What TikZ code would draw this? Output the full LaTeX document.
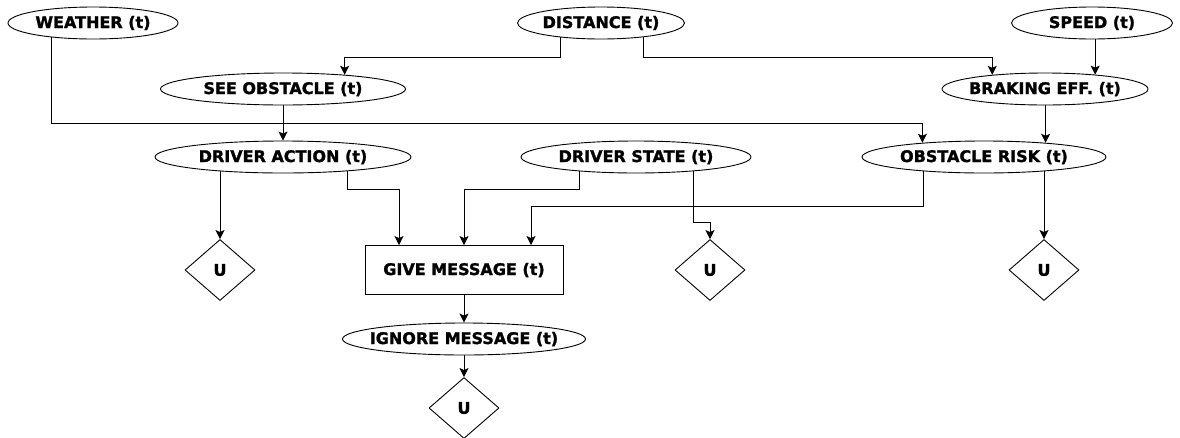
\documentclass[tikz,border=0pt]{standalone}
\usepackage{fontspec}
\setmainfont{DejaVu Sans}[BoldFeatures={FakeBold=1.5}]
\usepackage{tikz}
\usetikzlibrary{shapes.geometric}
\usetikzlibrary{arrows.meta}
\pgfdeclarelayer{bg}
\pgfsetlayers{bg,main}

\begin{document}
\begin{tikzpicture}[x=1pt,y=-1pt,
        var/.style={ellipse,draw,fill=white,line width=0.9pt,inner xsep=-40pt,inner ysep=0pt,minimum height=32pt,font=\fontsize{16}{18}\selectfont\bfseries},
        dec/.style={rectangle,draw,fill=white,line width=0.9pt,minimum width=198pt,minimum height=49pt,font=\fontsize{16}{18}\selectfont\bfseries},
        util/.style={diamond,draw,fill=white,line width=0.9pt,inner sep=0pt,minimum width=70pt,minimum height=61pt,font=\fontsize{16}{18}\selectfont\bfseries},
        arr/.style={-{Stealth[length=9pt,width=9pt,inset=2pt]},line width=0.9pt}]
            \useasboundingbox (0,0) rectangle (1180,437);
            % chance nodes
            \node[var,minimum width=170pt] (weather) at (93,23) {WEATHER (t)};
            \node[var,minimum width=167pt] (distance) at (601,23) {DISTANCE (t)};
            \node[var,minimum width=161pt] (speed) at (1092,23) {SPEED (t)};
            \node[var,minimum width=245pt] (seeobs) at (283,89) {SEE OBSTACLE (t)};
            \node[var,minimum width=206pt] (brake) at (1045,89) {BRAKING EFF. (t)};
            \node[var,minimum width=256pt] (action) at (283,157) {DRIVER ACTION (t)};
            \node[var,minimum width=230pt] (state) at (636,157) {DRIVER STATE (t)};
            \node[var,minimum width=244pt] (risk) at (984,157) {OBSTACLE RISK (t)};
            \node[var,minimum width=243pt] (ignore) at (464,339) {IGNORE MESSAGE (t)};
            % decision and utilities
            \node[dec] (give) at (464,270) {GIVE MESSAGE (t)};
            \node[util] (u1) at (220,270) {U};
            \node[util] (u2) at (710,270) {U};
            \node[util] (u3) at (1044,270) {U};
            \node[util] (u4) at (464,408) {U};
            % links
            \begin{pgfonlayer}{bg}
            \draw[arr] ([xshift=-42pt]weather.center) -- ++(0,100) -| (risk.167);
            \draw[arr] ([xshift=-41pt]distance.center) -- ++(0,34) -| (seeobs.13);
            \draw[arr] ([xshift=42pt]distance.center) -- ++(0,34) -| (brake.165);
            \draw[arr] (speed.center -| brake.16) -- (brake.16);
            \draw[arr] (seeobs) -- (action);
            \draw[arr] (risk.13 |- brake.center) -- (risk.13);
            \draw[arr] (u1.north |- action.center) -- (u1);
            \draw[arr] ([xshift=64pt]action.center) -- ++(0,32) -| ([xshift=-65pt]give.north);
            \draw[arr] ([xshift=-57pt]state.center) -- ++(0,32) -| (give.north);
            \draw[arr] ([xshift=-61pt]risk.center) -- ++(0,49) -| ([xshift=67pt]give.north);
            \draw[arr] ([xshift=57pt]state.center) -- ++(0,65) -| (u2.north);
            \draw[arr] (u3.north |- risk.center) -- (u3);
            \draw[arr] (give) -- (ignore);
            \draw[arr] (ignore) -- (u4);
            \end{pgfonlayer}
        \end{tikzpicture}
\end{document}
